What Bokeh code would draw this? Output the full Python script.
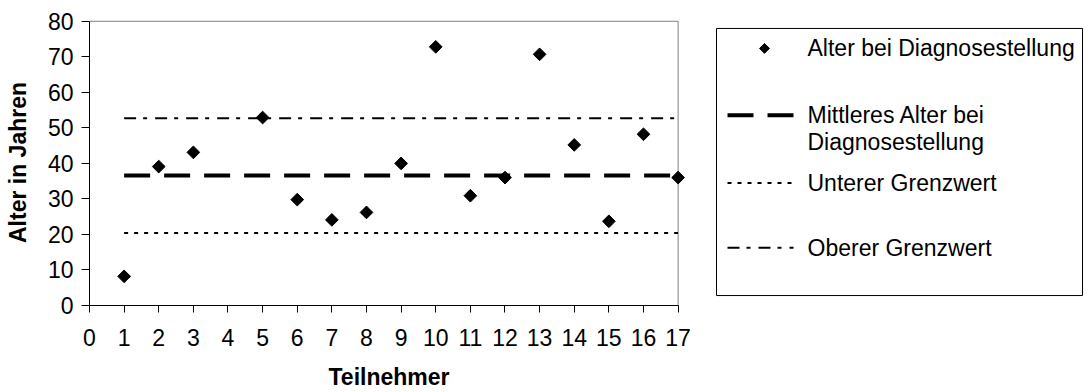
import numpy as np
from bokeh.plotting import figure
from bokeh.models import Range1d, FixedTicker
from bokeh.layouts import row
from bokeh.core.properties import value
from bokeh.embed import file_html
from bokeh.resources import INLINE

# ---- data ----
teilnehmer = [1, 2, 3, 5, 6, 7, 8, 9, 10, 11, 12, 13, 14, 15, 16, 17]
alter = [8.2, 39.1, 43.1, 52.9, 29.8, 24.1, 26.2, 40.0, 72.8, 30.9, 36.0, 70.7, 45.2, 23.7, 48.2, 36.0]
linien_x = [1, 17]
mittleres_alter = [36.6, 36.6]
unterer_grenzwert = [20.4, 20.4]
oberer_grenzwert = [52.7, 52.7]
x_ticks = list(range(0, 18))
y_ticks = list(range(0, 81, 10))
legend_labels = ["Alter bei Diagnosestellung", "Mittleres Alter bei", "Diagnosestellung",
                 "Unterer Grenzwert", "Oberer Grenzwert"]

FONT = "Liberation Sans"
FS = "23px"
TOP, BOTTOM = 19, 86
XMAX, YMAX = x_ticks[-1], y_ticks[-1]

# ---- main plot ----
p = figure(width=700, height=392, x_range=Range1d(0, XMAX + 0.3), y_range=Range1d(0, YMAX + 0.5),
           output_backend="svg", toolbar_location=None,
           min_border_left=89, min_border_right=12, min_border_top=TOP, min_border_bottom=BOTTOM)
p.background_fill_color = "white"
p.border_fill_color = "white"
p.outline_line_color = None
p.xgrid.visible = False
p.ygrid.visible = False

for ax in (p.xaxis[0], p.yaxis[0]):
    ax.axis_line_color = "black"
    ax.axis_line_width = 1
    ax.major_tick_line_color = "black"
    ax.major_tick_in = 0
    ax.minor_tick_line_color = None
    ax.major_label_text_font = FONT
    ax.major_label_text_font_size = FS
    ax.major_label_text_color = "black"
    ax.axis_label_text_font = FONT
    ax.axis_label_text_font_size = FS
    ax.axis_label_text_font_style = "bold"
    ax.axis_label_text_color = "black"

p.xaxis.ticker = FixedTicker(ticks=x_ticks)
p.yaxis.ticker = FixedTicker(ticks=y_ticks)
p.xaxis.bounds = (0, XMAX)
p.yaxis.bounds = (0, YMAX)
p.xaxis.major_tick_out = 7
p.yaxis.major_tick_out = 8
p.xaxis.major_label_standoff = 16
p.yaxis.major_label_standoff = 8
p.xaxis.axis_label = "Teilnehmer"
p.yaxis.axis_label = "Alter in Jahren"
p.xaxis.axis_label_standoff = 15
p.yaxis.axis_label_standoff = 14

# grey plot-area border (top and right)
p.line([0, XMAX], [YMAX, YMAX], line_color="#808080", line_width=1)
p.line([XMAX, XMAX], [0, YMAX], line_color="#808080", line_width=1)

p.line(linien_x, oberer_grenzwert, line_color="black", line_width=2, line_dash="12 7 4 8")
p.line(linien_x, unterer_grenzwert, line_color="black", line_width=2, line_dash="4 6")
p.line(linien_x, mittleres_alter, line_color="black", line_width=4, line_dash="26 14")
p.scatter(teilnehmer, alter, marker="square", angle=np.pi / 4, size=9,
          fill_color="black", line_color="black")

# ---- legend panel (data units = page pixels from top) ----
lg = figure(width=392, height=392, x_range=Range1d(0, 392),
            y_range=Range1d(392 - BOTTOM, TOP),
            output_backend="svg", toolbar_location=None,
            min_border_left=0, min_border_right=0, min_border_top=TOP, min_border_bottom=BOTTOM,
            x_axis_location=None, y_axis_location=None)
lg.xgrid.visible = False
lg.ygrid.visible = False
lg.outline_line_color = None
lg.background_fill_color = "white"
lg.border_fill_color = "white"

lg.quad(left=[16], right=[382], top=[28], bottom=[296], fill_color=None,
        line_color="black", line_width=1)
lg.scatter([64], [48], marker="square", angle=np.pi / 4, size=7,
           fill_color="black", line_color="black")
lg.line([27, 93], [115, 115], line_color="black", line_width=4, line_dash="26 14")
lg.line([27, 93], [183, 183], line_color="black", line_width=2, line_dash="4 6")
lg.line([27, 93], [248, 248], line_color="black", line_width=2, line_dash="12 7 4 8")
lg.text(x=[107] * 5, y=[48, 115, 142, 183, 248], text=legend_labels,
        text_font=value(FONT), text_font_size=FS, text_color="black",
        text_align="left", text_baseline="middle")

layout = row(p, lg)
open("out.html", "w").write(file_html(layout, INLINE))
